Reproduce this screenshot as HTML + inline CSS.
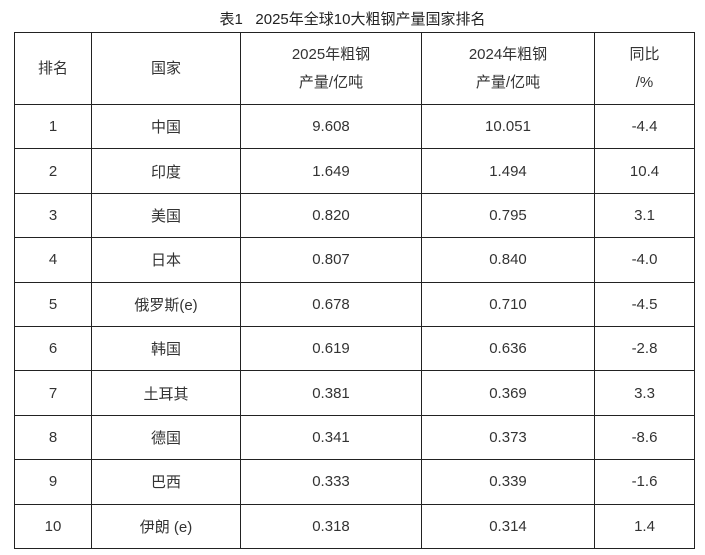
<!DOCTYPE html>
<html><head><meta charset="utf-8"><style>
body{margin:0;width:705px;height:555px;background:#fff;position:relative;font-family:"Liberation Sans","Noto Sans CJK SC",sans-serif;color:#333;}
.t{position:absolute;top:8px;left:0;width:705px;text-align:center;font-size:15px;color:#222;}
table{position:absolute;left:14px;top:32px;border-collapse:collapse;table-layout:fixed;}
td{border:1.5px solid #222;text-align:center;font-size:15px;padding:0;height:43.4px;}
tr.h td{height:71px;line-height:28px;}
</style></head><body>
<div class="t">表1&nbsp;&nbsp;&nbsp;2025年全球10大粗钢产量国家排名</div>
<table>
<colgroup><col style="width:77px"><col style="width:149px"><col style="width:181px"><col style="width:173px"><col style="width:100px"></colgroup>
<tr class="h"><td>排名</td><td>国家</td><td>2025年粗钢<br>产量/亿吨</td><td>2024年粗钢<br>产量/亿吨</td><td>同比<br>/%</td></tr>
<tr><td>1</td><td>中国</td><td>9.608</td><td>10.051</td><td>-4.4</td></tr>
<tr><td>2</td><td>印度</td><td>1.649</td><td>1.494</td><td>10.4</td></tr>
<tr><td>3</td><td>美国</td><td>0.820</td><td>0.795</td><td>3.1</td></tr>
<tr><td>4</td><td>日本</td><td>0.807</td><td>0.840</td><td>-4.0</td></tr>
<tr><td>5</td><td>俄罗斯(e)</td><td>0.678</td><td>0.710</td><td>-4.5</td></tr>
<tr><td>6</td><td>韩国</td><td>0.619</td><td>0.636</td><td>-2.8</td></tr>
<tr><td>7</td><td>土耳其</td><td>0.381</td><td>0.369</td><td>3.3</td></tr>
<tr><td>8</td><td>德国</td><td>0.341</td><td>0.373</td><td>-8.6</td></tr>
<tr><td>9</td><td>巴西</td><td>0.333</td><td>0.339</td><td>-1.6</td></tr>
<tr><td>10</td><td>伊朗 (e)</td><td>0.318</td><td>0.314</td><td>1.4</td></tr>
</table>
</body></html>
